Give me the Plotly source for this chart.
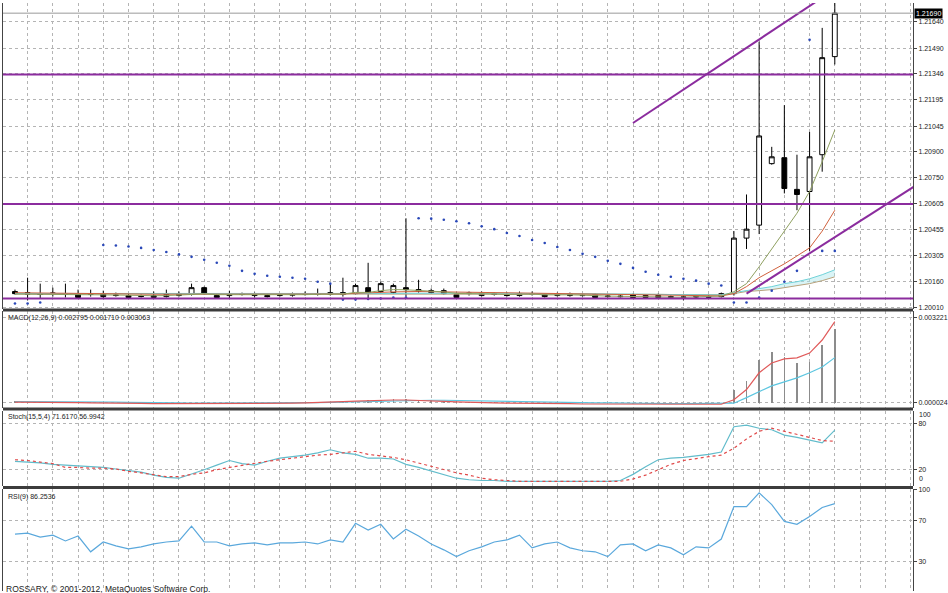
import plotly.graph_objects as go

# ---------------- data ----------------
idx = list(range(66))

open_ = [1.20101, 1.20095, 1.20089, 1.20089, 1.20084, 1.20089, 1.20084, 1.20089, 1.20078, 1.20078,
         1.20072, 1.20067, 1.20072, 1.20078, 1.20084, 1.20123, 1.20078, 1.20078, 1.20084, 1.20084,
         1.20078, 1.20078, 1.20080, 1.20084, 1.20084, 1.20084, 1.20095, 1.20089, 1.20123, 1.20101,
         1.20095, 1.20123, 1.20112, 1.20106, 1.20106, 1.20084, 1.20089, 1.20078, 1.20089, 1.20084,
         1.20078, 1.20086, 1.20084, 1.20078, 1.20089, 1.20080, 1.20084, 1.20072, 1.20075, 1.20084,
         1.20078, 1.20078, 1.20067, 1.20067, 1.20070, 1.20072, 1.20072, 1.20089, 1.20406, 1.20480,
         1.20831, 1.20865, 1.20684, 1.20672, 1.20882, 1.21442]
high = [1.20112, 1.20180, 1.20146, 1.20123, 1.20146, 1.20112, 1.20112, 1.20106, 1.20095, 1.20089,
        1.20084, 1.20101, 1.20112, 1.20101, 1.20146, 1.20129, 1.20089, 1.20106, 1.20095, 1.20095,
        1.20089, 1.20089, 1.20095, 1.20101, 1.20118, 1.20146, 1.20180, 1.20146, 1.20265, 1.20157,
        1.20146, 1.20519, 1.20168, 1.20118, 1.20118, 1.20095, 1.20101, 1.20101, 1.20095, 1.20095,
        1.20101, 1.20101, 1.20089, 1.20095, 1.20095, 1.20089, 1.20089, 1.20084, 1.20084, 1.20089,
        1.20084, 1.20089, 1.20078, 1.20078, 1.20078, 1.20084, 1.20095, 1.20446, 1.20655, 1.21527,
        1.20927, 1.21165, 1.20882, 1.21012, 1.21606, 1.21760]
low = [1.20084, 1.20050, 1.20061, 1.20072, 1.20067, 1.20061, 1.20072, 1.20061, 1.20072, 1.20061,
       1.20067, 1.20061, 1.20067, 1.20072, 1.20078, 1.20084, 1.20061, 1.20061, 1.20078, 1.20067,
       1.20067, 1.20072, 1.20072, 1.20078, 1.20078, 1.20078, 1.20072, 1.20084, 1.20061, 1.20095,
       1.20089, 1.20072, 1.20095, 1.20089, 1.20084, 1.20061, 1.20078, 1.20072, 1.20078, 1.20072,
       1.20072, 1.20078, 1.20067, 1.20072, 1.20072, 1.20072, 1.20061, 1.20067, 1.20067, 1.20061,
       1.20061, 1.20061, 1.20061, 1.20050, 1.20061, 1.20061, 1.20067, 1.20078, 1.20344, 1.20429,
       1.20825, 1.20661, 1.20565, 1.20333, 1.20785, 1.21397]
close = [1.20089, 1.20086, 1.20084, 1.20092, 1.20089, 1.20067, 1.20089, 1.20072, 1.20080, 1.20067,
         1.20075, 1.20078, 1.20084, 1.20089, 1.20123, 1.20089, 1.20067, 1.20084, 1.20086, 1.20078,
         1.20072, 1.20080, 1.20084, 1.20086, 1.20089, 1.20095, 1.20084, 1.20135, 1.20095, 1.20146,
         1.20135, 1.20112, 1.20101, 1.20095, 1.20089, 1.20067, 1.20092, 1.20089, 1.20084, 1.20078,
         1.20089, 1.20089, 1.20072, 1.20089, 1.20078, 1.20078, 1.20067, 1.20075, 1.20072, 1.20067,
         1.20067, 1.20067, 1.20072, 1.20070, 1.20072, 1.20069, 1.20089, 1.20406, 1.20457, 1.20989,
         1.20870, 1.20689, 1.20655, 1.20870, 1.21436, 1.21690]

sar = [1.20033, 1.20033, 1.20038, None, None, None, None, 1.20367, 1.20364, 1.20358,
       1.20350, 1.20338, 1.20327, 1.20313, 1.20299, 1.20282, 1.20265, 1.20248, 1.20219, 1.20202,
       1.20191, 1.20185, 1.20180, 1.20174, 1.20157, 1.20146, 1.20055, 1.20055, 1.20058, 1.20061,
       1.20067, 1.20067, 1.20519, 1.20517, 1.20511, 1.20502, 1.20491, 1.20474, 1.20457, 1.20435,
       1.20418, 1.20395, 1.20378, 1.20355, 1.20338, 1.20316, 1.20299, 1.20276, 1.20259, 1.20236,
       1.20214, 1.20197, 1.20185, 1.20174, 1.20163, 1.20146, 1.20135, 1.20038, 1.20038, 1.20067,
       1.20106, 1.20157, 1.20219, 1.21538, 1.20333, 1.20333]

ma_olive = [1.20086, 1.20086, 1.20085, 1.20085, 1.20085, 1.20083, 1.20083, 1.20082, 1.20081, 1.20079,
            1.20078, 1.20077, 1.20078, 1.20080, 1.20086, 1.20087, 1.20083, 1.20083, 1.20084, 1.20082,
            1.20080, 1.20080, 1.20081, 1.20083, 1.20085, 1.20087, 1.20086, 1.20096, 1.20096, 1.20106,
            1.20112, 1.20111, 1.20108, 1.20104, 1.20099, 1.20090, 1.20090, 1.20089, 1.20087, 1.20084,
            1.20085, 1.20086, 1.20082, 1.20084, 1.20082, 1.20080, 1.20076, 1.20075, 1.20074, 1.20072,
            1.20070, 1.20069, 1.20069, 1.20069, 1.20070, 1.20070, 1.20075, 1.20100, 1.20146, 1.20242,
            1.20344, 1.20446, 1.20548, 1.20672, 1.20842, 1.21023]
ma_red = [1.20094, 1.20093, 1.20093, 1.20092, 1.20092, 1.20091, 1.20090, 1.20090, 1.20089, 1.20088,
          1.20087, 1.20086, 1.20086, 1.20086, 1.20088, 1.20089, 1.20088, 1.20087, 1.20087, 1.20086,
          1.20085, 1.20085, 1.20085, 1.20085, 1.20086, 1.20087, 1.20087, 1.20091, 1.20092, 1.20096,
          1.20099, 1.20101, 1.20101, 1.20100, 1.20099, 1.20096, 1.20095, 1.20094, 1.20093, 1.20091,
          1.20090, 1.20090, 1.20088, 1.20088, 1.20087, 1.20086, 1.20084, 1.20083, 1.20082, 1.20080,
          1.20079, 1.20078, 1.20077, 1.20076, 1.20075, 1.20075, 1.20076, 1.20089, 1.20129, 1.20180,
          1.20219, 1.20259, 1.20304, 1.20350, 1.20446, 1.20565]
ma_cyan = [1.20090, 1.20090, 1.20090, 1.20089, 1.20089, 1.20089, 1.20089, 1.20088, 1.20088, 1.20088,
           1.20087, 1.20087, 1.20087, 1.20087, 1.20087, 1.20087, 1.20087, 1.20087, 1.20086, 1.20086,
           1.20086, 1.20086, 1.20086, 1.20086, 1.20086, 1.20086, 1.20086, 1.20087, 1.20088, 1.20089,
           1.20090, 1.20091, 1.20092, 1.20092, 1.20092, 1.20092, 1.20092, 1.20092, 1.20091, 1.20091,
           1.20091, 1.20090, 1.20090, 1.20090, 1.20089, 1.20089, 1.20088, 1.20088, 1.20087, 1.20087,
           1.20086, 1.20085, 1.20084, 1.20083, 1.20082, 1.20081, 1.20081, 1.20095, 1.20106, 1.20118,
           1.20129, 1.20146, 1.20157, 1.20174, 1.20197, 1.20225]
ma_tan = [1.20088, 1.20088, 1.20088, 1.20088, 1.20088, 1.20088, 1.20087, 1.20087, 1.20087, 1.20087,
          1.20086, 1.20086, 1.20086, 1.20086, 1.20086, 1.20086, 1.20086, 1.20086, 1.20086, 1.20086,
          1.20085, 1.20085, 1.20085, 1.20085, 1.20085, 1.20085, 1.20085, 1.20086, 1.20086, 1.20087,
          1.20088, 1.20088, 1.20089, 1.20089, 1.20089, 1.20089, 1.20089, 1.20089, 1.20089, 1.20089,
          1.20088, 1.20088, 1.20088, 1.20088, 1.20088, 1.20087, 1.20087, 1.20087, 1.20086, 1.20086,
          1.20085, 1.20085, 1.20084, 1.20084, 1.20083, 1.20083, 1.20083, 1.20089, 1.20101, 1.20106,
          1.20112, 1.20123, 1.20135, 1.20146, 1.20163, 1.20185]

h_levels = [1.21340, 1.20600, 1.20061]
trend_x = [[49.0, 72.0], [58.0, 72.0]]
trend_y = [[1.21063, 1.22160], [1.20089, 1.20733]]

price_ticks = [1.21640, 1.21490, 1.21346, 1.21195, 1.21045, 1.20900, 1.20750,
               1.20605, 1.20455, 1.20305, 1.20160, 1.20010]
price_labels = ["1.21640", "1.21490", "1.21346", "1.21195", "1.21045", "1.20900", "1.20750",
                "1.20605", "1.20455", "1.20305", "1.20160", "1.20010"]

macd_hist = [0.00008, 0.00007, 0.00006, 0.00005, 0.00005, 0.00004, 0.00004, 0.00003, 0.00002, 0.00001,
             0.00000, -0.00001, -0.00001, -0.00001, 0.00000, 0.00001, 0.00001, 0.00001, 0.00001, 0.00001,
             0.00001, 0.00001, 0.00002, 0.00003, 0.00004, 0.00006, 0.00008, 0.00010, 0.00012, 0.00013,
             0.00014, 0.00014, 0.00013, 0.00011, 0.00009, 0.00007, 0.00005, 0.00004, 0.00003, 0.00002,
             0.00002, 0.00001, 0.00001, 0.00001, 0.00000, 0.00000, 0.00000, -0.00001, -0.00001, -0.00002,
             -0.00002, -0.00002, -0.00003, -0.00003, -0.00002, 0.00000, 0.00002, 0.00050, 0.00084, 0.00162,
             0.00192, 0.00173, 0.00151, 0.00155, 0.00218, 0.002795]
macd_signal = [0.00006, 0.00006, 0.00006, 0.00006, 0.00005, 0.00005, 0.00005, 0.00004, 0.00004, 0.00003,
               0.00003, 0.00002, 0.00001, 0.00001, 0.00000, 0.00000, 0.00000, 0.00000, 0.00001, 0.00001,
               0.00001, 0.00001, 0.00001, 0.00001, 0.00002, 0.00003, 0.00004, 0.00005, 0.00007, 0.00008,
               0.00010, 0.00011, 0.00011, 0.00011, 0.00011, 0.00010, 0.00009, 0.00008, 0.00007, 0.00006,
               0.00005, 0.00004, 0.00003, 0.00003, 0.00002, 0.00002, 0.00001, 0.00001, 0.00000, 0.00000,
               -0.00001, -0.00001, -0.00002, -0.00002, -0.00002, -0.00002, -0.00001, 0.00000, 0.00021, 0.00043,
               0.00065, 0.00080, 0.00095, 0.00114, 0.00136, 0.001710]
macd_third = [0.00004, 0.00004, 0.00003, 0.00003, 0.00002, 0.00002, 0.00001, 0.00001, 0.00000, 0.00000,
              -0.00001, -0.00002, -0.00002, -0.00002, -0.00001, -0.00001, -0.00001, -0.00001, -0.00001, -0.00001,
              -0.00001, 0.00000, 0.00000, 0.00001, 0.00002, 0.00004, 0.00006, 0.00008, 0.00010, 0.00011,
              0.00012, 0.00012, 0.00011, 0.00009, 0.00007, 0.00005, 0.00003, 0.00002, 0.00001, 0.00000,
              0.00000, -0.00001, -0.00001, -0.00002, -0.00002, -0.00003, -0.00003, -0.00003, -0.00004, -0.00004,
              -0.00004, -0.00005, -0.00005, -0.00005, -0.00005, -0.00005, -0.00004, 0.00013, 0.00051, 0.00114,
              0.00151, 0.00166, 0.00170, 0.00188, 0.00237, 0.003063]
macd_ticks = [0.003221, 0.000024]
macd_labels = ["0.003221", "0.000024"]

stoch_main = [31, 30, 29, 27, 26, 25, 24, 23, 21, 19,
              17, 13, 10, 9, 14, 20, 26, 32, 28, 26,
              31, 35, 37, 39, 42, 46, 42, 40, 35, 35,
              34, 27, 23, 18, 13, 9, 7, 6, 6, 5,
              5, 5, 5, 5, 5, 5, 5, 5, 6, 14,
              24, 33, 35, 36, 38, 40, 43, 76, 78, 74,
              72, 65, 62, 58, 55, 71.6170]
stoch_signal = [33, 32, 30, 28, 23, 23, 22, 22, 21, 18,
                16, 13, 11, 11, 14, 16, 20, 23, 26, 28,
                31, 33, 35, 37, 39, 40, 42, 44, 40, 38,
                36, 33, 29, 25, 20, 16, 13, 9, 7, 6,
                5, 5, 5, 5, 5, 5, 5, 5, 5, 8,
                13, 20, 27, 32, 35, 37, 39, 48, 60, 70,
                74, 70, 66, 62, 58, 56.9942]
stoch_levels = [80, 20]

rsi = [56.7, 57.6, 53.8, 55.7, 50.0, 54.8, 39.5, 49.0, 45.2, 42.4,
       44.3, 47.1, 49.0, 50.0, 64.3, 49.0, 49.0, 45.2, 47.1, 48.1,
       46.2, 48.1, 48.1, 49.0, 47.1, 51.0, 49.0, 67.1, 60.5, 66.2,
       51.9, 61.4, 54.8, 47.1, 41.4, 34.8, 40.5, 44.3, 49.0, 51.0,
       55.7, 43.3, 47.1, 49.0, 43.3, 40.5, 39.5, 34.8, 46.2, 47.1,
       40.5, 46.2, 43.3, 36.7, 44.3, 43.3, 51.9, 83.3, 83.3, 96.7,
       85.2, 69.0, 66.2, 73.8, 82.4, 86.2536]
rsi_ticks = [100, 70, 30]

# ---------------- layout helpers ----------------
W, H = 948, 593
def py(pix):
    return (H - pix) / H

XR = [-0.95, 71.2]
FONT = "Liberation Sans"
GRID = "#b4b4b4"

fig = go.Figure()

# main panel
fig.add_trace(go.Scatter(x=idx, y=ma_tan, mode="lines", line=dict(color="#b8a27c", width=1),
                         xaxis="x", yaxis="y", hoverinfo="skip"))
fig.add_trace(go.Scatter(x=idx, y=ma_cyan, mode="lines", line=dict(color="#6fd2d8", width=1),
                         fill="tonexty", fillcolor="rgba(170,230,235,0.45)",
                         xaxis="x", yaxis="y", hoverinfo="skip"))
fig.add_trace(go.Scatter(x=idx, y=ma_red, mode="lines", line=dict(color="#d0603c", width=1),
                         xaxis="x", yaxis="y", hoverinfo="skip"))
fig.add_trace(go.Scatter(x=idx, y=ma_olive, mode="lines", line=dict(color="#8fa060", width=1),
                         xaxis="x", yaxis="y", hoverinfo="skip"))
for tx, ty in zip(trend_x, trend_y):
    fig.add_trace(go.Scatter(x=tx, y=ty, mode="lines", line=dict(color="#8B2C9E", width=2),
                             xaxis="x", yaxis="y", hoverinfo="skip"))
fig.add_trace(go.Candlestick(x=idx, open=open_, high=high, low=low, close=close,
                             increasing=dict(fillcolor="white", line=dict(color="black", width=1)),
                             decreasing=dict(fillcolor="black", line=dict(color="black", width=1)),
                             whiskerwidth=0, xaxis="x", yaxis="y", hoverinfo="skip"))
fig.add_trace(go.Scatter(x=idx, y=sar, mode="markers", marker=dict(color="#2a48b8", size=2.6),
                         xaxis="x", yaxis="y", hoverinfo="skip"))

# MACD panel
fig.add_trace(go.Bar(x=idx, y=macd_hist, width=0.12, marker=dict(color="#8c8c8c", line=dict(width=0)),
                     xaxis="x2", yaxis="y2", hoverinfo="skip"))
fig.add_trace(go.Scatter(x=idx, y=macd_signal, mode="lines", line=dict(color="#5cc6e0", width=1.2),
                         xaxis="x2", yaxis="y2", hoverinfo="skip"))
fig.add_trace(go.Scatter(x=idx, y=macd_third, mode="lines", line=dict(color="#e05a5a", width=1.2),
                         xaxis="x2", yaxis="y2", hoverinfo="skip"))

# Stoch panel
fig.add_trace(go.Scatter(x=idx, y=stoch_main, mode="lines", line=dict(color="#62bccb", width=1.2),
                         xaxis="x3", yaxis="y3", hoverinfo="skip"))
fig.add_trace(go.Scatter(x=idx, y=stoch_signal, mode="lines", line=dict(color="#e04848", width=1.2, dash="dot"),
                         xaxis="x3", yaxis="y3", hoverinfo="skip"))

# RSI panel
fig.add_trace(go.Scatter(x=idx, y=rsi, mode="lines", line=dict(color="#5aa8dc", width=1.2),
                         xaxis="x4", yaxis="y4", hoverinfo="skip"))

def xax(anchor, match=None):
    d = dict(domain=[0, 1], anchor=anchor, range=XR, showgrid=True, gridcolor=GRID, griddash="dot",
             gridwidth=1, tick0=1, dtick=2, showticklabels=False, zeroline=False, showline=False,
             ticks="", fixedrange=True)
    if match:
        d["matches"] = match
    return d

def yax(domain, rng, tickvals, ticktext=None, showgrid=True):
    d = dict(domain=domain, range=rng, side="right", showline=True, linecolor="#444", linewidth=1,
             mirror=True, showgrid=showgrid, gridcolor=GRID, griddash="dot", gridwidth=1,
             zeroline=False, ticks="outside", ticklen=3, tickcolor="#444", tickvals=tickvals,
             tickfont=dict(family=FONT, size=7, color="#222"), fixedrange=True)
    if ticktext is not None:
        d["ticktext"] = ticktext
    return d

fig.update_layout(
    width=W, height=H,
    margin=dict(l=3, r=32, t=0, b=0),
    paper_bgcolor="white", plot_bgcolor="white",
    showlegend=False, boxgap=0.45, bargap=0,
    xaxis=dict(**xax("y"), rangeslider=dict(visible=False)),
    xaxis2=xax("y2", "x"), xaxis3=xax("y3", "x"), xaxis4=xax("y4", "x"),
    yaxis=yax([py(309), 1.0], [1.19999, 1.21748], price_ticks, price_labels),
    yaxis2=yax([py(408), py(311)], [-0.000164, 0.003444], macd_ticks, macd_labels),
    yaxis3=yax([py(487), py(411)], [-1, 97], stoch_levels),
    yaxis4=yax([0, py(490)], [1.5, 100.5], rsi_ticks),
)

for lv in h_levels:
    fig.add_hline(y=lv, line=dict(color="#8B2C9E", width=2), xref="x", yref="y")

shapes = [
    dict(type="line", xref="paper", x0=0, x1=1, yref="y", y0=close[-1], y1=close[-1],
         line=dict(color="#9a9a9a", width=1)),
]
for sp in (309.5, 409.5, 488.5):
    shapes.append(dict(type="line", xref="paper", x0=0, x1=1, yref="paper", y0=py(sp), y1=py(sp),
                       line=dict(color="#3c3c3c", width=3)))
for s in shapes:
    fig.add_shape(**s)

ann_font = dict(family=FONT, size=7, color="#222")
fig.add_annotation(xref="paper", x=1, xanchor="left", xshift=1, yref="y", y=close[-1],
                   text="%.5f" % close[-1], showarrow=False, bgcolor="black", borderpad=1,
                   font=dict(family=FONT, size=7, color="white"))
fig.add_annotation(xref="paper", x=1, xanchor="left", xshift=4, yref="y3", y=92, text="100",
                   showarrow=False, font=ann_font)
fig.add_annotation(xref="paper", x=1, xanchor="left", xshift=4, yref="y3", y=9, text="0",
                   showarrow=False, font=ann_font)
fig.add_annotation(xref="paper", x=0, xanchor="left", xshift=3, yref="paper", y=py(318), yanchor="middle",
                   text="MACD(12,26,9) %.6f %.6f %.6f" % (macd_hist[-1], macd_signal[-1], macd_third[-1]),
                   showarrow=False, font=ann_font)
fig.add_annotation(xref="paper", x=0, xanchor="left", xshift=3, yref="paper", y=py(418), yanchor="middle",
                   text="Stoch(15,5,4) %.4f %.4f" % (stoch_main[-1], stoch_signal[-1]),
                   showarrow=False, font=ann_font)
fig.add_annotation(xref="paper", x=0, xanchor="left", xshift=3, yref="paper", y=py(498), yanchor="middle",
                   text="RSI(9) %.4f" % rsi[-1], showarrow=False, font=ann_font)
fig.add_annotation(xref="paper", x=0, xanchor="left", xshift=1, yref="paper", y=py(591), yanchor="middle",
                   text="ROSSARY, © 2001-2012, MetaQuotes Software Corp.", showarrow=False,
                   font=dict(family=FONT, size=8.5, color="#222"))

fig.write_html("out.html", config={"displayModeBar": False, "staticPlot": True},
               post_script="document.body.style.margin='0';document.body.style.overflow='hidden';")
